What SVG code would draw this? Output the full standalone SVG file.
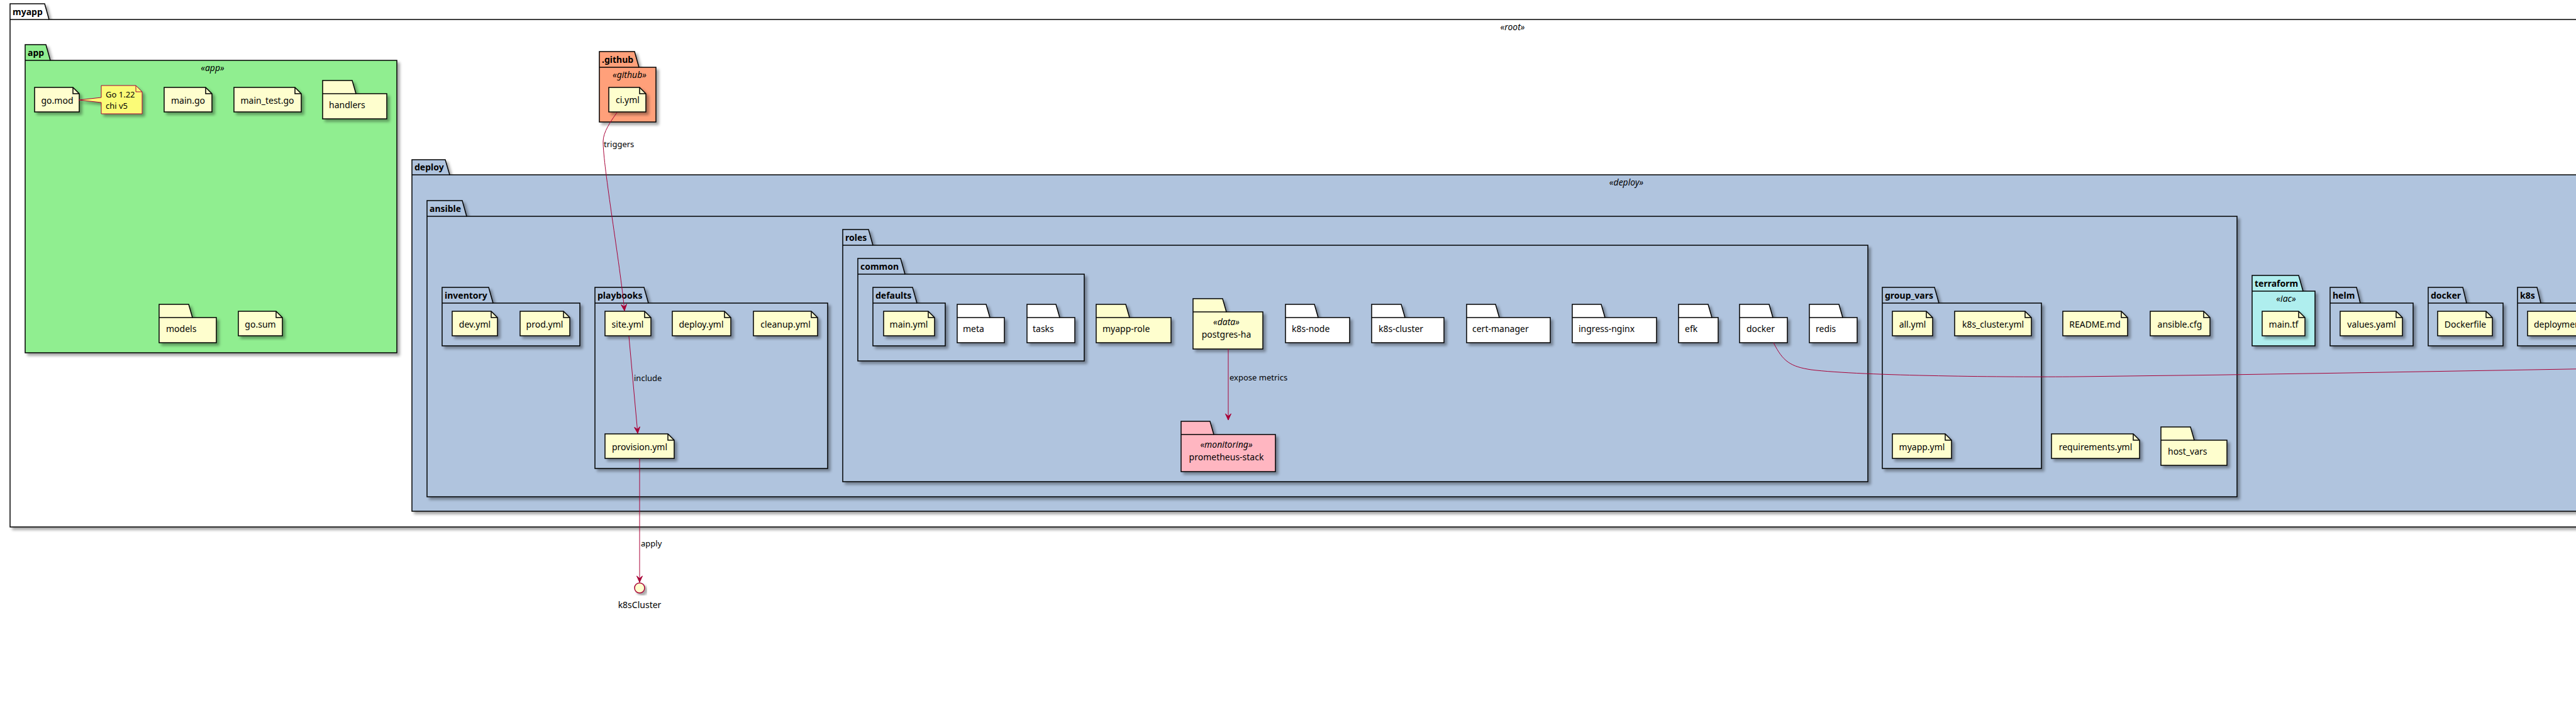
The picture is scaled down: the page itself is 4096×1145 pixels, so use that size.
<svg xmlns="http://www.w3.org/2000/svg" width="4096" height="1145" viewBox="0 0 4096 1145">
<style>
text{font-family:"Noto Sans","Open Sans","DejaVu Sans",sans-serif;font-size:14px;fill:#000}
.b{font-weight:bold}
.st{font-style:italic;text-anchor:middle}
.c{text-anchor:middle}
.el{font-size:13px}
.pk{stroke:#000;stroke-width:1.5;filter:url(#sh)}
.ln{stroke:#000;stroke-width:1.5;fill:none}
.blue{fill:#B0C4DE}
.file{fill:#FEFECE;stroke:#000;stroke-width:1.5;filter:url(#sh)}
.fold{fill:none;stroke:#000;stroke-width:1.5}
.yel{fill:#FEFECE}
.wht{fill:#FFFFFF}
.edge{fill:none;stroke:#A80036;stroke-width:1}
</style>
<defs>
<filter id="sh" x="-10%" y="-10%" width="130%" height="130%">
<feDropShadow dx="4" dy="4" stdDeviation="2" flood-color="#000" flood-opacity="0.35"/>
</filter>
<marker id="arr" markerUnits="userSpaceOnUse" viewBox="-11 -6 12 12" refX="0" refY="0" markerWidth="12" markerHeight="12" orient="auto">
<path d="M0,0 L-10,-4.5 L-6,0 L-10,4.5 Z" fill="#A80036" stroke="#A80036" stroke-width="1"/>
</marker>
</defs>
<rect width="4096" height="1145" fill="#FFFFFF"/>

<g id="pkg-myapp">
<path class="pk wht" d="M16,6 H71 L78,31 H4794 V838 H16 Z"/><path class="ln" d="M16,31 H78"/>
<text class="b" x="20" y="24">myapp</text>
<text class="st" x="2405" y="48">«root»</text>
</g>

<g id="pkg-app">
<path class="pk" fill="#90EE90" d="M40,71 H73 L80,96 H631 V561 H40 Z"/><path class="ln" d="M40,96 H80"/>
<text class="b" x="44" y="89">app</text>
<text class="st" x="338" y="113">«app»</text>
</g>
<g id="file-go-mod"><path class="file" d="M55,139 H116 L126,149 V178 H55 Z"/><path class="fold" d="M116,139 V149 H126"/><text class="c" x="91" y="165">go.mod</text></g>
<g id="note-go">
<path d="M161,136 H216 L226,146 V181 H161 V163 L125,159 L161,155 Z" fill="#FBFB77" stroke="#A80036" stroke-width="1" filter="url(#sh)"/>
<path d="M216,136 V146 H226" fill="none" stroke="#A80036" stroke-width="1"/>
<text class="el" x="168" y="155">Go 1.22</text>
<text class="el" x="168" y="173">chi v5</text>
</g>
<g id="file-main-go"><path class="file" d="M261,139 H327 L337,149 V178 H261 Z"/><path class="fold" d="M327,139 V149 H337"/><text class="c" x="299" y="165">main.go</text></g>
<g id="file-main-test-go"><path class="file" d="M372,139 H469 L479,149 V178 H372 Z"/><path class="fold" d="M469,139 V149 H479"/><text class="c" x="425" y="165">main_test.go</text></g>
<g id="dir-handlers"><path class="pk yel" d="M513,128 H560 L566,149 H615 V189 H513 Z"/><path class="ln" d="M513,149 H566"/><text x="523" y="172">handlers</text></g>
<g id="dir-models"><path class="pk yel" d="M253,484 H300 L306,505 H344 V545 H253 Z"/><path class="ln" d="M253,505 H306"/><text x="264" y="528">models</text></g>
<g id="file-go-sum"><path class="file" d="M379,495 H439 L449,505 V534 H379 Z"/><path class="fold" d="M439,495 V505 H449"/><text class="c" x="414" y="521">go.sum</text></g>

<g id="pkg-github">
<path class="pk" fill="#FFA07A" d="M953,82 H1009 L1016,107 H1043 V194 H953 Z"/><path class="ln" d="M953,107 H1016"/>
<text class="b" x="957" y="100">.github</text>
<text class="st" x="1001" y="124">«github»</text>
</g>
<g id="file-ci-yml"><path class="file" d="M968,139 H1017 L1027,149 V178 H968 Z"/><path class="fold" d="M1017,139 V149 H1027"/><text class="c" x="998" y="164">ci.yml</text></g>

<g id="pkg-deploy">
<path class="pk blue" d="M655,254 H708 L715,278 H4517 V813 H655 Z"/><path class="ln" d="M655,278 H715"/>
<text class="b" x="659" y="271">deploy</text>
<text class="st" x="2586" y="295">«deploy»</text>
</g>
<g id="pkg-ansible">
<path class="pk blue" d="M679,319 H735 L742,344 H3557 V790 H679 Z"/><path class="ln" d="M679,344 H742"/>
<text class="b" x="683" y="337">ansible</text>
</g>
<g id="pkg-inventory">
<path class="pk blue" d="M703,457 H777 L784,482 H922 V550 H703 Z"/><path class="ln" d="M703,482 H784"/>
<text class="b" x="707" y="475">inventory</text>
</g>
<g id="file-dev-yml"><path class="file" d="M719,495 H781 L791,505 V534 H719 Z"/><path class="fold" d="M781,495 V505 H791"/><text class="c" x="755" y="521">dev.yml</text></g>
<g id="file-prod-yml"><path class="file" d="M827,495 H896 L906,505 V534 H827 Z"/><path class="fold" d="M896,495 V505 H906"/><text class="c" x="866" y="521">prod.yml</text></g>
<g id="pkg-playbooks">
<path class="pk blue" d="M946,457 H1024 L1031,482 H1316 V745 H946 Z"/><path class="ln" d="M946,482 H1031"/>
<text class="b" x="950" y="475">playbooks</text>
</g>
<g id="file-site-yml"><path class="file" d="M962,495 H1025 L1035,505 V534 H962 Z"/><path class="fold" d="M1025,495 V505 H1035"/><text class="c" x="998" y="521">site.yml</text></g>
<g id="file-deploy-yml"><path class="file" d="M1069,495 H1152 L1162,505 V534 H1069 Z"/><path class="fold" d="M1152,495 V505 H1162"/><text class="c" x="1115" y="521">deploy.yml</text></g>
<g id="file-cleanup-yml"><path class="file" d="M1198,495 H1290 L1300,505 V534 H1198 Z"/><path class="fold" d="M1290,495 V505 H1300"/><text class="c" x="1249" y="521">cleanup.yml</text></g>
<g id="file-provision-yml"><path class="file" d="M962,690 H1062 L1072,700 V729 H962 Z"/><path class="fold" d="M1062,690 V700 H1072"/><text class="c" x="1017" y="716">provision.yml</text></g>

<g id="pkg-roles">
<path class="pk blue" d="M1340,365 H1381 L1388,390 H2970 V766 H1340 Z"/><path class="ln" d="M1340,390 H1388"/>
<text class="b" x="1344" y="383">roles</text>
</g>
<g id="pkg-common">
<path class="pk blue" d="M1364,411 H1432 L1439,436 H1724 V574 H1364 Z"/><path class="ln" d="M1364,436 H1439"/>
<text class="b" x="1368" y="429">common</text>
</g>
<g id="pkg-defaults">
<path class="pk blue" d="M1388,457 H1451 L1458,482 H1503 V550 H1388 Z"/><path class="ln" d="M1388,482 H1458"/>
<text class="b" x="1392" y="475">defaults</text>
</g>
<g id="file-main-yml"><path class="file" d="M1405,495 H1476 L1486,505 V534 H1405 Z"/><path class="fold" d="M1476,495 V505 H1486"/><text class="c" x="1445" y="521">main.yml</text></g>
<g id="dir-meta"><path class="pk wht" d="M1522,484 H1568 L1574,505 H1597 V545 H1522 Z"/><path class="ln" d="M1522,505 H1574"/><text x="1531" y="528">meta</text></g>
<g id="dir-tasks"><path class="pk wht" d="M1633,484 H1679 L1685,505 H1709 V545 H1633 Z"/><path class="ln" d="M1633,505 H1685"/><text x="1642" y="528">tasks</text></g>
<g id="dir-myapp-role"><path class="pk yel" d="M1743,484 H1790 L1796,505 H1862 V545 H1743 Z"/><path class="ln" d="M1743,505 H1796"/><text x="1753" y="528">myapp-role</text></g>
<g id="dir-postgres-ha"><path class="pk yel" d="M1897,475 H1944 L1950,496 H2008 V555 H1897 Z"/><path class="ln" d="M1897,496 H1950"/><text class="st" x="1950" y="517">«data»</text><text class="c" x="1950" y="537">postgres-ha</text></g>
<g id="dir-k8s-node"><path class="pk wht" d="M2044,484 H2090 L2096,505 H2146 V545 H2044 Z"/><path class="ln" d="M2044,505 H2096"/><text x="2054" y="528">k8s-node</text></g>
<g id="dir-k8s-cluster"><path class="pk wht" d="M2181,484 H2228 L2234,505 H2296 V545 H2181 Z"/><path class="ln" d="M2181,505 H2234"/><text x="2192" y="528">k8s-cluster</text></g>
<g id="dir-cert-manager"><path class="pk wht" d="M2332,484 H2378 L2384,505 H2465 V545 H2332 Z"/><path class="ln" d="M2332,505 H2384"/><text x="2341" y="528">cert-manager</text></g>
<g id="dir-ingress-nginx"><path class="pk wht" d="M2500,484 H2546 L2552,505 H2634 V545 H2500 Z"/><path class="ln" d="M2500,505 H2552"/><text x="2510" y="528">ingress-nginx</text></g>
<g id="dir-efk"><path class="pk wht" d="M2669,484 H2716 L2722,505 H2732 V545 H2669 Z"/><path class="ln" d="M2669,505 H2722"/><text x="2679" y="528">efk</text></g>
<g id="dir-docker"><path class="pk wht" d="M2766,484 H2813 L2819,505 H2842 V545 H2766 Z"/><path class="ln" d="M2766,505 H2819"/><text x="2777" y="528">docker</text></g>
<g id="dir-redis"><path class="pk wht" d="M2877,484 H2924 L2930,505 H2953 V545 H2877 Z"/><path class="ln" d="M2877,505 H2930"/><text x="2887" y="528">redis</text></g>
<g id="dir-prometheus-stack"><path class="pk" fill="#FFB6C1" d="M1878,670 H1924 L1930,691 H2028 V750 H1878 Z"/><path class="ln" d="M1878,691 H1930"/><text class="st" x="1950" y="712">«monitoring»</text><text class="c" x="1950" y="732">prometheus-stack</text></g>

<g id="pkg-group-vars">
<path class="pk blue" d="M2993,457 H3076 L3083,482 H3246 V745 H2993 Z"/><path class="ln" d="M2993,482 H3083"/>
<text class="b" x="2997" y="475">group_vars</text>
</g>
<g id="file-all-yml"><path class="file" d="M3009,495 H3063 L3073,505 V534 H3009 Z"/><path class="fold" d="M3063,495 V505 H3073"/><text class="c" x="3041" y="521">all.yml</text></g>
<g id="file-k8s-cluster-yml"><path class="file" d="M3108,495 H3220 L3230,505 V534 H3108 Z"/><path class="fold" d="M3220,495 V505 H3230"/><text class="c" x="3169" y="521">k8s_cluster.yml</text></g>
<g id="file-myapp-yml"><path class="file" d="M3009,690 H3093 L3103,700 V729 H3009 Z"/><path class="fold" d="M3093,690 V700 H3103"/><text class="c" x="3056" y="716">myapp.yml</text></g>
<g id="file-readme"><path class="file" d="M3280,495 H3373 L3383,505 V534 H3280 Z"/><path class="fold" d="M3373,495 V505 H3383"/><text class="c" x="3331" y="521">README.md</text></g>
<g id="file-ansible-cfg"><path class="file" d="M3419,495 H3504 L3514,505 V534 H3419 Z"/><path class="fold" d="M3504,495 V505 H3514"/><text class="c" x="3466" y="521">ansible.cfg</text></g>
<g id="file-requirements-yml"><path class="file" d="M3262,690 H3392 L3402,700 V729 H3262 Z"/><path class="fold" d="M3392,690 V700 H3402"/><text class="c" x="3332" y="716">requirements.yml</text></g>
<g id="dir-host-vars"><path class="pk yel" d="M3436,679 H3483 L3489,700 H3541 V740 H3436 Z"/><path class="ln" d="M3436,700 H3489"/><text x="3447" y="723">host_vars</text></g>

<g id="pkg-terraform">
<path class="pk" fill="#AFEEEE" d="M3581,438 H3655 L3662,463 H3681 V550 H3581 Z"/><path class="ln" d="M3581,463 H3662"/>
<text class="b" x="3585" y="456">terraform</text>
<text class="st" x="3635" y="480">«iac»</text>
</g>
<g id="file-main-tf"><path class="file" d="M3597,495 H3655 L3665,505 V534 H3597 Z"/><path class="fold" d="M3655,495 V505 H3665"/><text class="c" x="3631" y="521">main.tf</text></g>
<g id="pkg-helm">
<path class="pk blue" d="M3705,457 H3747 L3753,482 H3837 V550 H3705 Z"/><path class="ln" d="M3705,482 H3753"/>
<text class="b" x="3709" y="475">helm</text>
</g>
<g id="file-values-yaml"><path class="file" d="M3721,495 H3810 L3820,505 V534 H3721 Z"/><path class="fold" d="M3810,495 V505 H3820"/><text class="c" x="3771" y="521">values.yaml</text></g>
<g id="pkg-docker">
<path class="pk blue" d="M3861,457 H3916 L3922,482 H3980 V550 H3861 Z"/><path class="ln" d="M3861,482 H3922"/>
<text class="b" x="3865" y="475">docker</text>
</g>
<g id="file-dockerfile"><path class="file" d="M3876,495 H3953 L3963,505 V534 H3876 Z"/><path class="fold" d="M3953,495 V505 H3963"/><text class="c" x="3920" y="521">Dockerfile</text></g>
<g id="pkg-k8s">
<path class="pk blue" d="M4003,457 H4034 L4040,482 H4200 V550 H4003 Z"/><path class="ln" d="M4003,482 H4040"/>
<text class="b" x="4007" y="475">k8s</text>
</g>
<g id="file-deployment-yaml"><path class="file" d="M4019,495 H4138 L4148,505 V534 H4019 Z"/><path class="fold" d="M4138,495 V505 H4148"/><text x="4029" y="521">deployment.yaml</text></g>

<g id="iface-k8sCluster">
<circle cx="1017" cy="935" r="8" fill="#FEFECE" stroke="#A80036" stroke-width="1.5" filter="url(#sh)"/>
<text class="c" x="1017" y="967">k8sCluster</text>
</g>

<g id="connectors">
<path class="edge" marker-end="url(#arr)" d="M981,179 C971,193 959,210 959,225 C959,265 986,420 993,494"/>
<text class="el" x="960" y="234">triggers</text>
<path class="edge" marker-end="url(#arr)" d="M1000,535 L1014,689"/>
<text class="el" x="1008" y="606">include</text>
<path class="edge" marker-end="url(#arr)" d="M1953,555 L1953,668"/>
<text class="el" x="1955" y="605">expose metrics</text>
<path class="edge" marker-end="url(#arr)" d="M1017,729 L1017,926"/>
<text class="el" x="1019" y="869">apply</text>
<path class="edge" d="M2820,545 C2835,575 2847,583 2880,588 C2960,598 3200,600 3300,599 C3600,596 3900,590 4200,585"/>
</g>
</svg>
